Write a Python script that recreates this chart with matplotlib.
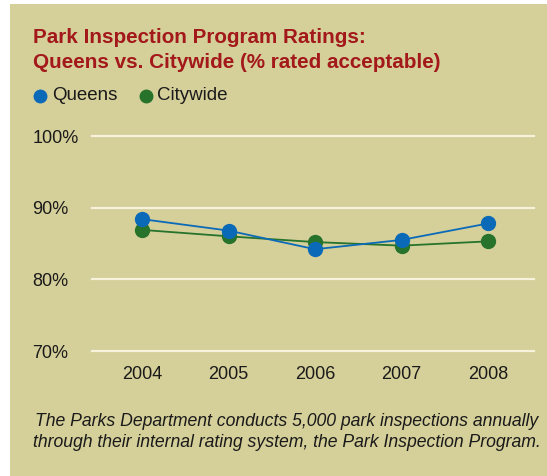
import numpy as np
import matplotlib
matplotlib.use("Agg")
import matplotlib.pyplot as plt
from matplotlib.patches import Rectangle

years = ["2004", "2005", "2006", "2007", "2008"]
queens = [88.4, 86.8, 84.2, 85.5, 87.8]
citywide = [86.9, 86.0, 85.2, 84.7, 85.3]
yticks = [70, 80, 90, 100]
ytick_labels = ["70%", "80%", "90%", "100%"]

BG = "#d5cf9a"
C_Q = "#0b6ab8"
C_C = "#27732b"
C_TITLE = "#a3181a"
C_GRID = "#f6f2dc"

plt.rcParams["font.family"] = ["Liberation Sans", "DejaVu Sans"]

W, H = 547, 476
fig = plt.figure(figsize=(W / 100, H / 100), dpi=100)
fig.patch.set_facecolor("white")
fig.patches.append(Rectangle((10 / W, 0), 1 - 10 / W, 1 - 4 / H, transform=fig.transFigure,
                             facecolor=BG, edgecolor="none", zorder=-5))

ax = fig.add_axes([92 / W, 1 - 351 / H, (534 - 92) / W, (351 - 136) / H])
ax.set_facecolor("none")
ax.set_zorder(2)
x = np.arange(len(years))
ax.plot(x, citywide, "-o", color=C_C, lw=1.3, ms=10, zorder=3, clip_on=False)
ax.plot(x, queens, "-o", color=C_Q, lw=1.3, ms=10, zorder=4, clip_on=False)

ax.set_xlim(-0.578, 4.53)
ax.set_ylim(70, 100)
ax.set_yticks(yticks)
ax.set_yticklabels(ytick_labels, fontsize=13, ha="left", color="#1a1a1a")
ax.set_xticks(x)
ax.set_xticklabels(years, fontsize=13, color="#1a1a1a")
ax.tick_params(axis="y", length=0, pad=43)
ax.tick_params(axis="x", length=0, pad=11)
ax.grid(axis="y", color=C_GRID, lw=1.6, clip_on=False)
for s in ax.spines.values():
    s.set_visible(False)

fig.text(33 / W, 1 - 38 / H, "Park Inspection Program Ratings:", color=C_TITLE,
         fontsize=14.9, fontweight="bold", va="center", ha="left")
fig.text(33 / W, 1 - 62 / H, "Queens vs. Citywide (% rated acceptable)", color=C_TITLE,
         fontsize=14.9, fontweight="bold", va="center", ha="left")

# legend
fig.lines.append(plt.Line2D([40 / W], [1 - 96 / H], marker="o", ms=9, color=C_Q,
                            transform=fig.transFigure))
fig.text(52 / W, 1 - 96 / H, "Queens", fontsize=13.5, va="center", ha="left", color="#1a1a1a")
fig.lines.append(plt.Line2D([146 / W], [1 - 96 / H], marker="o", ms=9, color=C_C,
                            transform=fig.transFigure))
fig.text(157 / W, 1 - 96 / H, "Citywide", fontsize=13.5, va="center", ha="left", color="#1a1a1a")

cap = ("The Parks Department conducts 5,000 park inspections annually\n"
       "through their internal rating system, the Park Inspection Program.")
fig.text(287 / W, 1 - 432 / H, cap, fontsize=12.7, style="italic", ha="center", va="center",
         linespacing=1.3, color="#1a1a1a")

fig.savefig("out.png", dpi=100, facecolor="white")
